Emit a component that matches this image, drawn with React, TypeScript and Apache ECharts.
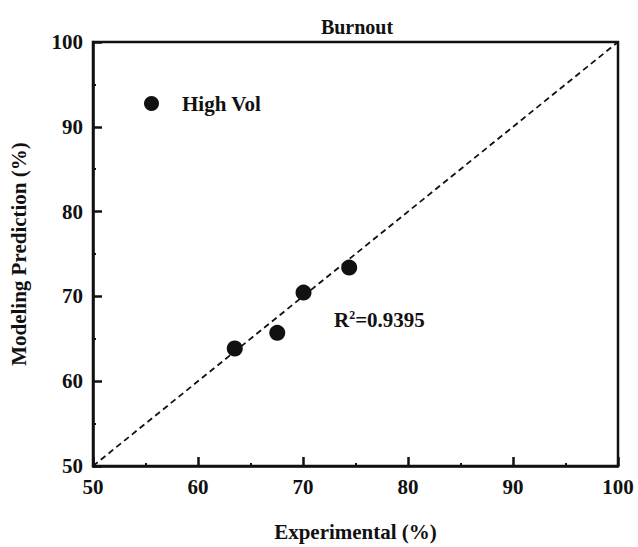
import React, { useEffect, useRef } from "react";
import * as echarts from "echarts";

const experimental = [63.5, 67.55, 70.05, 74.4];
const predicted = [63.85, 65.7, 70.45, 73.4];
const seriesName = "High Vol";
const parityLine = [50, 100];
const r2Text = "0.9395";

const FONT = "'Liberation Serif', 'Times New Roman', serif";
const INK = "#111";

export default function App() {
  const ref = useRef<HTMLDivElement>(null);
  useEffect(() => {
    if (!ref.current) return;
    const chart = echarts.init(ref.current, undefined, { renderer: "svg" });
    const points = experimental.map((x, i) => [x, predicted[i]]);
    const lineData = parityLine.map((v) => [v, v]);
    chart.setOption({
      animation: false,
      backgroundColor: "#fff",
      textStyle: { fontFamily: FONT, fontWeight: "bold" },
      title: {
        text: "Burnout",
        left: 352,
        textAlign: "center",
        top: 12,
        textStyle: { fontFamily: FONT, fontWeight: "bold", fontSize: 20, color: INK },
      },
      legend: {
        data: [{ name: seriesName, icon: "circle" }],
        left: 139,
        top: 88,
        itemWidth: 15,
        itemHeight: 15,
        textStyle: { fontFamily: FONT, fontWeight: "bold", fontSize: 21, color: INK, padding: [0, 0, 0, 18] },
      },
      grid: {
        left: 86,
        right: 20,
        top: 42,
        bottom: 73,
        show: true,
        borderColor: INK,
        borderWidth: 2.5,
        backgroundColor: "transparent",
      },
      xAxis: {
        type: "value",
        min: 50,
        max: 100,
        interval: 10,
        position: "bottom",
        splitLine: { show: false },
        axisLine: { show: true, onZero: false, lineStyle: { color: INK, width: 2.5 } },
        name: "Experimental (%)",
        nameLocation: "middle",
        nameGap: 55,
        nameTextStyle: { fontFamily: FONT, fontWeight: "bold", fontSize: 21, color: INK },
        axisTick: { show: true, inside: true, length: 9, lineStyle: { color: INK, width: 2.5 } },
        minorTick: { show: true, splitNumber: 2, length: 3, lineStyle: { color: INK, width: 2 } },
        axisLabel: { show: true, margin: 10, fontFamily: FONT, fontWeight: "bold", fontSize: 21, color: INK },
      },
      yAxis: {
        type: "value",
        min: 50,
        max: 100,
        interval: 10,
        position: "left",
        splitLine: { show: false },
        axisLine: { show: true, onZero: false, lineStyle: { color: INK, width: 2.5 } },
        name: "Modeling Prediction (%)",
        nameLocation: "middle",
        nameGap: 64,
        nameTextStyle: { fontFamily: FONT, fontWeight: "bold", fontSize: 21, color: INK },
        axisTick: { show: true, inside: true, length: 9, lineStyle: { color: INK, width: 2.5 } },
        minorTick: { show: true, splitNumber: 2, length: 3, lineStyle: { color: INK, width: 2 } },
        axisLabel: { show: true, margin: 10, fontFamily: FONT, fontWeight: "bold", fontSize: 21, color: INK },
      },
      series: [
        {
          type: "line",
          data: lineData,
          symbol: "none",
          lineStyle: { color: INK, width: 1.8, type: [6, 4] },
          silent: true,
          z: 1,
        },
        {
          name: seriesName,
          type: "scatter",
          data: points,
          symbol: "circle",
          symbolSize: 16,
          itemStyle: { color: INK, opacity: 1 },
          z: 3,
        },
      ],
      graphic: [
        {
          type: "text",
          left: 334,
          top: 309,
          style: {
            text: "{b|R}{s|2}{b|=" + r2Text + "}",
            rich: {
              b: { fontFamily: FONT, fontWeight: "bold", fontSize: 21, fill: INK, verticalAlign: "bottom" },
              s: { fontFamily: FONT, fontWeight: "bold", fontSize: 12, fill: INK, verticalAlign: "top", padding: [0, 0, 9, 0] },
            },
          },
        },
      ],
    });
    return () => chart.dispose();
  }, []);
  return <div ref={ref} style={{ position: "absolute", left: 0, top: 0, width: 638, height: 547 }} />;
}
